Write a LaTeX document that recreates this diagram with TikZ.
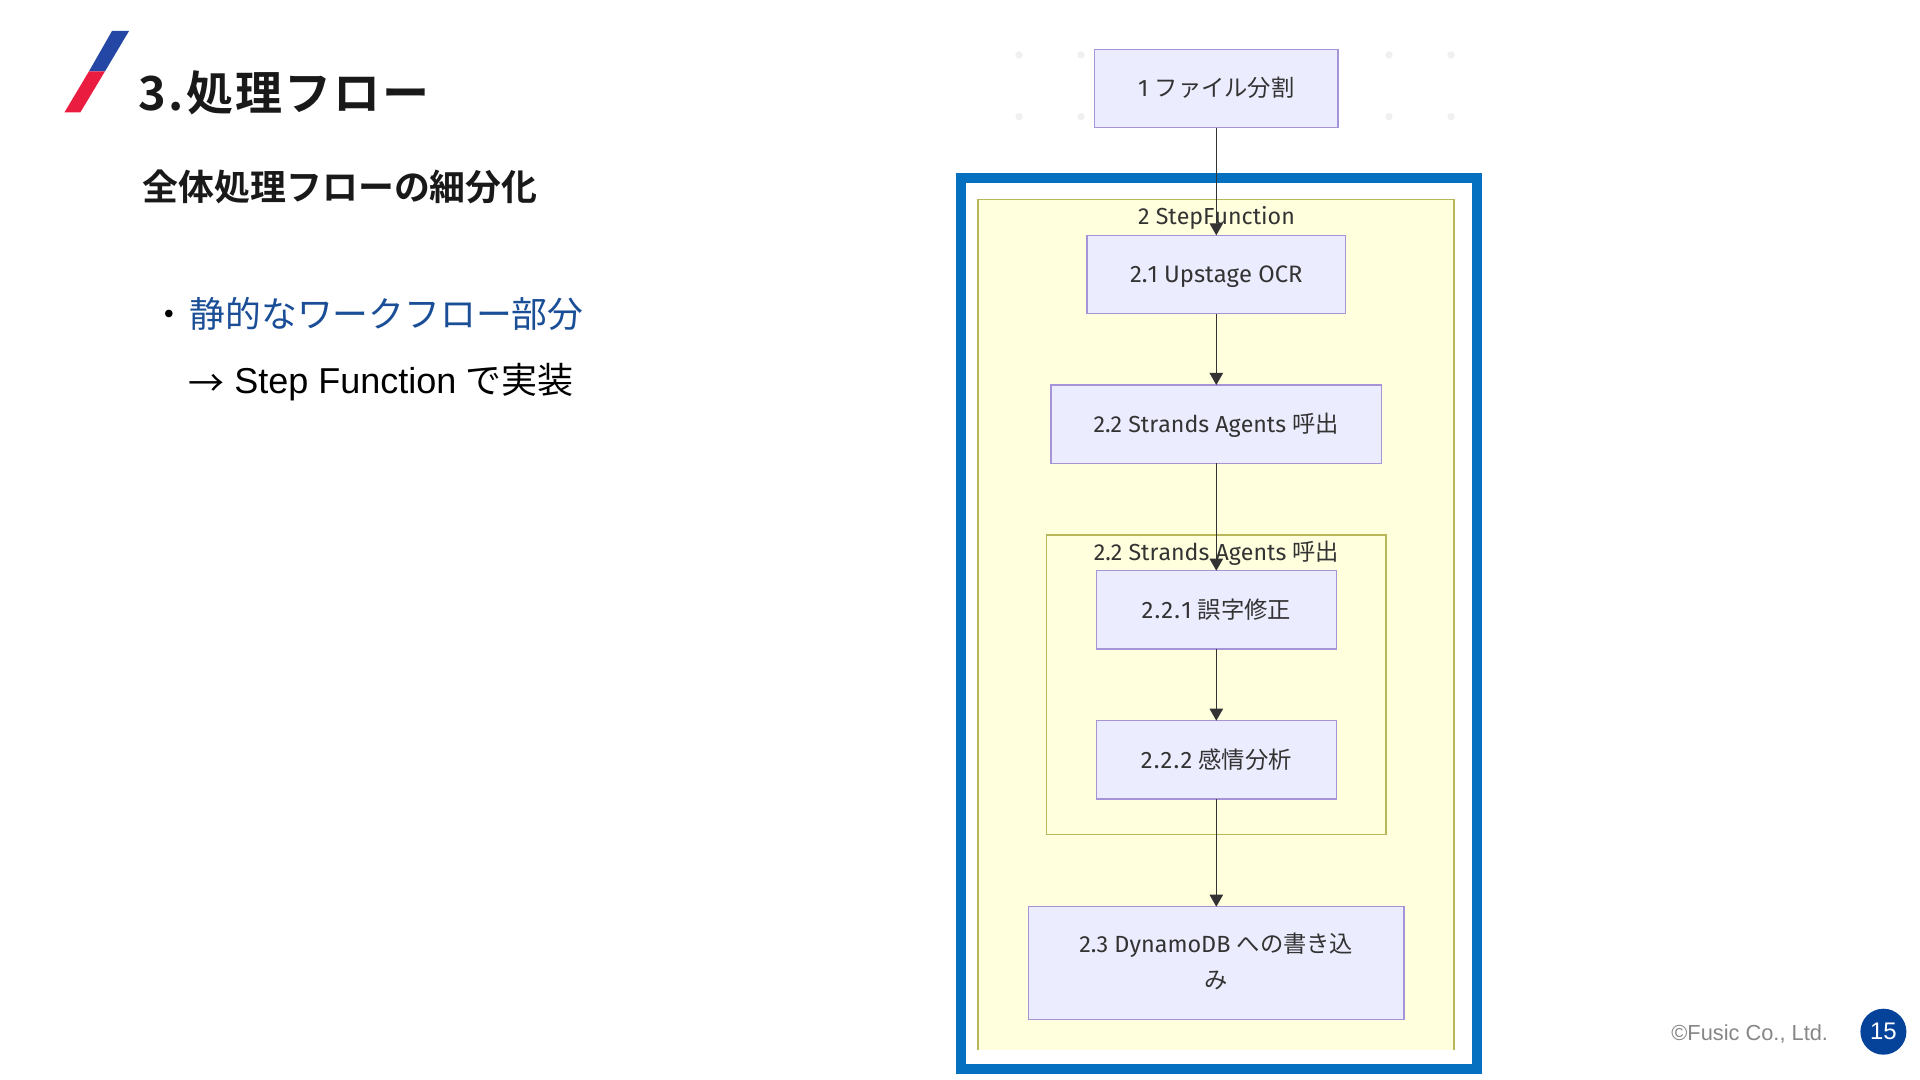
\documentclass[tikz,border=0pt]{standalone}
\usepackage{fontspec}
\usetikzlibrary{arrows.meta}
\setmainfont[Kerning=Off]{Fira Sans}
\newfontfamily\cj{Noto Sans CJK JP}
\newfontfamily\cjt[LetterSpace=4.5]{Noto Sans CJK JP Bold}
\newfontfamily\cjb{Noto Sans CJK JP Bold}
\newfontfamily\ar{Liberation Sans}
\newfontfamily\nums[Kerning=Off,LetterSpace=5]{Fira Sans}
\newcommand{\pxfont}[2]{\fontsize{\dimexpr#1pt*3/4\relax}{\dimexpr#2pt*3/4\relax}\selectfont}
\newcommand{\sv}{\rule{0pt}{15pt}\rule[-3.75pt]{0pt}{3.75pt}}
\newcommand{\svl}{\rule{0pt}{16.5pt}\rule[-3.75pt]{0pt}{3.75pt}}
\newcommand{\jp}[1]{{\cj\pxfont{23.3}{36}#1}}
\newcommand{\num}[1]{{\nums #1}}
\definecolor{nodefill}{HTML}{ECECFF}
\definecolor{nodeline}{HTML}{A594D8}
\definecolor{clusterfill}{HTML}{FFFFDE}
\definecolor{clusterline}{HTML}{B8B85A}
\definecolor{txt}{HTML}{333333}
\definecolor{frameblue}{HTML}{0570C0}
\definecolor{slideblue}{HTML}{1A4E96}
\definecolor{logoblue}{HTML}{2447A5}
\definecolor{logored}{HTML}{EA1C3F}
\definecolor{badge}{HTML}{05429A}
\tikzset{
  x=0.75pt,y=-0.75pt,
  nbox/.style n args={2}{draw=nodeline,fill=nodefill,line width=1.05pt,inner sep=0pt,outer sep=0pt,
    minimum width=#1*0.75pt,minimum height=#2*0.75pt,align=center,text=txt,font=\pxfont{23.8}{36}},
  flow/.style={draw=txt,line width=0.9pt,-{Triangle[length=9pt,width=10pt]}},
  ctitle/.style={text=txt,inner sep=0pt,font=\pxfont{23.2}{36}},
  cedge/.style={draw=clusterline,line width=0.95pt},
  gdot/.style={circle,fill=gray!12,inner sep=0pt,minimum size=5.5pt},
  slide/.style={anchor=west,inner sep=0pt},
}
\begin{document}
\begin{tikzpicture}
\useasboundingbox (0,0) rectangle (1920,1080);
\fill[white] (0,0) rectangle (1920,1080);
% logo
\fill[logoblue] (112,31) -- (129,31) -- (105,71.3) -- (89,71.3) -- cycle;
\fill[logored] (89,71.3) -- (105,71.3) -- (80.4,112.3) -- (64.5,112.3) -- cycle;
% slide text
\node[slide,text=black!90] (title) at (138.5,92.5) {\pxfont{47}{50}\cjt 3.処理フロー};
\node[slide,text=black!90] (sub) at (142.5,186.5) {\pxfont{35.9}{40}\cjb 全体処理フローの細分化};
\node[slide,text=black] (dot) at (151,314) {\pxfont{35.6}{40}\cj\vphantom{部}・};
\node[slide,text=slideblue] (b1) at (189.5,314) {\pxfont{35.8}{40}\cj\vphantom{部}静的なワークフロー部分};
\node[slide,text=black] (b2) at (188.5,382) {\pxfont{36}{40}\raisebox{-2pt}{\cj →} {\ar Step Function} {\cj で実装}};
% dots
\foreach \dx/\nm in {1019/a,1081/b,1389/c,1451/d}{
  \node[gdot] (dt\nm) at (\dx,55) {};
  \node[gdot] (db\nm) at (\dx,116.7) {};
}
% frame
\draw[frameblue,line width=7.5pt] (961,178) rectangle (1477,1069);
% outer cluster
\fill[clusterfill] (978,199.3) rectangle (1454,1049.5);
\draw[cedge] (978,1049.5) -- (978,199.3) -- (1454,199.3) -- (1454,1049.5);
\node[ctitle] (t2) at (1216.5,217) {\sv 2 StepFunction};
% inner cluster
\draw[cedge,fill=clusterfill] (1046.3,535) rectangle (1386,834.5);
\node[ctitle] (t22) at (1216.5,553) {\sv 2.2 Strands Agents \jp{呼出}};
% nodes
\node[nbox={243.7}{78.4}] (n1) at (1216.3,88.5) {\svl 1 \jp{ファイル分割}};
\node[nbox={258.9}{78.4}] (n21) at (1216.3,274.5) {\svl 2.1 Upstage OCR};
\node[nbox={330.7}{78.4},font=\pxfont{23.2}{36}] (n22) at (1216.3,424.2) {\svl 2.2 Strands Agents \jp{呼出}};
\node[nbox={239.8}{78.4}] (n221) at (1216.3,609.9) {\svl\num{2.2.1} \jp{誤字修正}};
\node[nbox={239.8}{78.4}] (n222) at (1216.3,759.9) {\svl\num{2.2.2} \jp{感情分析}};
\node[nbox={375.6}{112.6},font=\pxfont{23.4}{36}] (n23) at (1216.3,963) {\sv 2.3 DynamoDB \jp{への書き込}\\[0pt]\sv\jp{み}};
% connectors
\draw[flow] (n1) -- (n21);
\draw[flow] (n21) -- (n22);
\draw[flow] (n22) -- (n221);
\draw[flow] (n221) -- (n222);
\draw[flow] (n222) -- (n23);
% footer
\node[inner sep=0pt,text=gray!95] (copy) at (1749.7,1034) {\pxfont{21.8}{28}\ar ©Fusic Co., Ltd.};
\node[circle,fill=badge,text=white,inner sep=0pt,minimum size=34.5pt] (pg) at (1883.4,1031.7) {\pxfont{24}{28}\ar 15};
\end{tikzpicture}
\end{document}
